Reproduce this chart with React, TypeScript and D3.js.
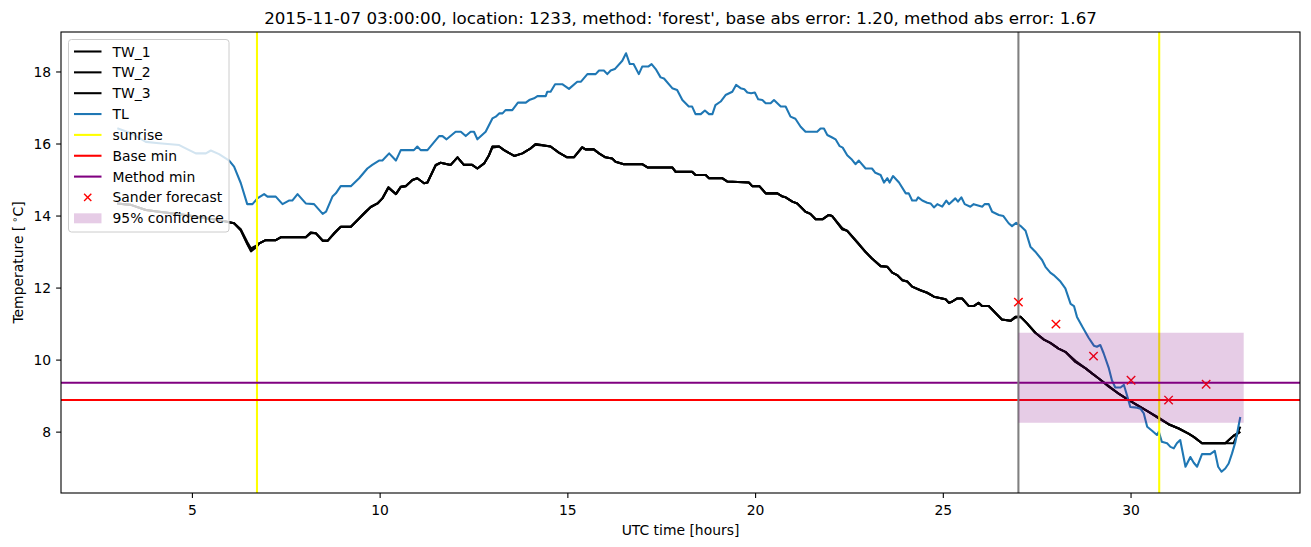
import React, { useEffect } from "react";
import * as d3 from "d3";

const TITLE = "2015-11-07 03:00:00, location: 1233, method: 'forest', base abs error: 1.20, method abs error: 1.67";

const TL_TIME = [3.0,3.36,3.76,4.11,4.65,4.82,5.09,5.36,5.49,5.71,5.98,6.11,6.29,6.46,6.6,6.73,6.91,7.0,7.22,7.4,7.57,7.66,7.8,8.02,8.24,8.47,8.56,8.73,8.82,8.95,9.22,9.44,9.66,9.79,9.97,10.06,10.24,10.42,10.55,10.9,10.99,11.08,11.26,11.57,11.66,11.77,12.01,12.15,12.28,12.41,12.5,12.59,12.81,12.99,13.08,13.17,13.26,13.34,13.52,13.67,13.88,13.97,14.1,14.19,14.41,14.45,14.54,14.66,14.85,15.03,15.25,15.35,15.52,15.74,15.83,15.96,16.05,16.14,16.25,16.45,16.55,16.65,16.75,16.89,16.98,17.14,17.23,17.34,17.47,17.56,17.78,17.91,18.05,18.22,18.31,18.4,18.54,18.65,18.76,18.85,18.93,19.07,19.2,19.38,19.48,19.6,19.7,19.78,19.88,19.98,20.07,20.18,20.27,20.4,20.49,20.67,20.8,20.93,21.06,21.2,21.33,21.64,21.73,21.82,21.91,22.04,22.13,22.24,22.32,22.44,22.57,22.66,22.75,22.93,23.1,23.19,23.33,23.42,23.51,23.57,23.66,23.82,24.0,24.08,24.17,24.28,24.33,24.44,24.57,24.66,24.75,24.84,24.97,25.08,25.15,25.32,25.39,25.48,25.57,25.72,25.81,26.04,26.1,26.21,26.3,26.48,26.6,26.74,26.83,26.94,27.06,27.19,27.32,27.45,27.63,27.72,27.85,27.94,28.12,28.25,28.39,28.48,28.56,28.7,28.87,29.01,29.09,29.18,29.27,29.41,29.49,29.58,29.72,29.81,29.89,29.98,30.16,30.25,30.34,30.43,30.56,30.69,30.74,30.82,30.96,31.05,31.14,31.22,31.31,31.45,31.58,31.67,31.76,31.89,32.11,32.23,32.32,32.41,32.51,32.6,32.69,32.78,32.85,32.91];
const TL = [16.44,16.3,16.06,16.02,15.97,15.88,15.74,15.74,15.82,15.72,15.54,15.37,14.91,14.33,14.33,14.49,14.61,14.54,14.54,14.33,14.43,14.43,14.61,14.35,14.33,14.06,14.12,14.54,14.63,14.83,14.83,15.05,15.32,15.42,15.54,15.54,15.74,15.54,15.83,15.83,15.93,15.83,15.83,16.22,16.22,16.13,16.34,16.34,16.22,16.34,16.34,16.13,16.34,16.71,16.76,16.85,16.85,16.94,16.94,17.15,17.15,17.22,17.27,17.33,17.33,17.45,17.45,17.66,17.66,17.53,17.73,17.73,17.94,17.94,18.04,18.04,17.94,18.04,18.08,18.31,18.52,18.22,18.22,17.94,18.15,18.15,18.22,18.08,17.85,17.82,17.55,17.5,17.22,17.04,17.04,16.83,16.83,16.93,16.83,16.83,17.08,17.18,17.36,17.45,17.64,17.55,17.52,17.43,17.41,17.43,17.24,17.22,17.13,17.13,17.22,17.04,17.04,16.76,16.7,16.48,16.34,16.34,16.43,16.43,16.25,16.18,16.13,15.94,15.9,15.69,15.56,15.44,15.54,15.32,15.32,15.2,15.14,14.93,15.05,14.93,15.11,14.93,14.63,14.63,14.43,14.43,14.52,14.43,14.37,14.35,14.24,14.33,14.26,14.43,14.33,14.49,14.4,14.52,14.33,14.26,14.33,14.26,14.33,14.33,14.12,14.03,14.0,13.8,13.72,13.81,13.72,13.59,13.15,13.01,12.78,12.59,12.43,12.36,12.18,11.99,11.56,11.5,11.2,10.93,10.62,10.4,10.37,10.42,10.19,9.77,9.44,9.24,9.24,9.31,9.03,8.7,8.68,8.65,8.52,8.15,8.04,7.92,8.01,7.73,7.69,7.59,7.55,7.69,7.78,7.04,7.31,7.15,7.04,7.39,7.39,7.48,7.04,6.9,6.99,7.13,7.41,7.73,8.1,8.42];

const TW_TIME = [3.0,3.36,3.76,4.11,4.82,5.36,5.71,5.98,6.11,6.29,6.46,6.56,6.7,6.78,6.95,7.22,7.35,8.02,8.15,8.29,8.47,8.6,8.77,8.95,9.22,9.4,9.61,9.75,9.93,10.06,10.22,10.42,10.55,10.68,10.86,10.99,11.17,11.26,11.48,11.61,11.88,12.06,12.23,12.45,12.59,12.77,12.9,12.99,13.17,13.3,13.57,13.79,14.01,14.14,14.54,14.76,14.98,15.16,15.38,15.47,15.69,15.83,16.0,16.18,16.27,16.49,16.98,17.12,17.78,17.87,18.31,18.4,18.67,18.76,19.11,19.24,19.82,19.91,20.1,20.27,20.58,20.72,20.8,20.98,21.11,21.33,21.46,21.6,21.78,21.95,22.04,22.31,22.44,22.71,22.93,23.1,23.33,23.51,23.64,23.77,23.91,24.04,24.17,24.39,24.57,24.75,25.06,25.15,25.23,25.36,25.5,25.68,25.81,25.94,26.03,26.21,26.39,26.56,26.79,26.92,27.06,27.23,27.45,27.68,27.85,28.07,28.25,28.52,28.79,28.96,29.14,29.41,29.68,29.94,30.21,30.47,30.74,31.0,31.27,31.53,31.67,31.89,32.51,32.73,32.91];
const TW_1 = [14.35,14.31,14.17,14.12,14.03,13.94,13.89,13.83,13.8,13.61,13.24,13.05,13.15,13.24,13.33,13.33,13.41,13.41,13.54,13.52,13.31,13.31,13.52,13.7,13.7,13.89,14.12,14.25,14.35,14.49,14.8,14.61,14.81,14.83,15.0,15.05,14.91,14.93,15.42,15.48,15.42,15.63,15.42,15.42,15.32,15.46,15.69,15.93,15.93,15.83,15.67,15.74,15.88,16.0,15.93,15.76,15.63,15.63,15.91,15.85,15.85,15.74,15.63,15.6,15.51,15.44,15.44,15.35,15.35,15.23,15.23,15.14,15.14,15.05,15.05,14.96,14.93,14.83,14.83,14.63,14.63,14.54,14.52,14.4,14.35,14.12,14.06,13.91,13.91,14.03,14.0,13.63,13.59,13.26,13.0,12.82,12.61,12.59,12.43,12.36,12.22,12.18,12.04,11.94,11.87,11.76,11.69,11.59,11.62,11.71,11.71,11.5,11.5,11.59,11.5,11.5,11.31,11.13,11.09,11.2,11.2,11.02,10.76,10.57,10.48,10.32,10.23,9.95,9.77,9.63,9.49,9.26,9.06,8.89,8.72,8.56,8.38,8.22,8.1,7.96,7.87,7.69,7.69,7.9,8.01];
const TW_2 = [14.35,14.31,14.17,14.12,14.03,13.94,13.89,13.83,13.8,13.63,13.28,13.1,13.18,13.24,13.33,13.33,13.41,13.41,13.52,13.52,13.33,13.31,13.5,13.7,13.7,13.89,14.1,14.25,14.35,14.49,14.78,14.61,14.81,14.83,15.0,15.05,14.91,14.93,15.4,15.48,15.42,15.63,15.42,15.42,15.32,15.46,15.69,15.9,15.93,15.83,15.67,15.74,15.88,15.98,15.93,15.76,15.63,15.63,15.9,15.85,15.85,15.74,15.63,15.6,15.51,15.44,15.44,15.35,15.35,15.23,15.23,15.14,15.14,15.05,15.05,14.96,14.93,14.83,14.83,14.63,14.63,14.54,14.52,14.4,14.35,14.12,14.06,13.91,13.91,14.03,14.0,13.66,13.59,13.28,13.0,12.82,12.61,12.59,12.43,12.36,12.22,12.18,12.04,11.94,11.87,11.76,11.69,11.59,11.62,11.71,11.71,11.5,11.5,11.59,11.5,11.5,11.31,11.13,11.09,11.18,11.2,11.02,10.76,10.57,10.48,10.32,10.23,9.98,9.77,9.63,9.49,9.28,9.06,8.89,8.72,8.56,8.4,8.22,8.1,7.96,7.87,7.69,7.69,7.69,8.15];
const TW_3 = [14.35,14.31,14.17,14.12,14.03,13.94,13.89,13.83,13.8,13.6,13.22,13.02,13.13,13.24,13.33,13.33,13.41,13.41,13.54,13.52,13.31,13.31,13.52,13.7,13.7,13.89,14.12,14.25,14.35,14.49,14.8,14.61,14.81,14.83,15.0,15.05,14.91,14.93,15.42,15.48,15.42,15.63,15.42,15.42,15.32,15.46,15.69,15.93,15.93,15.83,15.67,15.74,15.88,16.0,15.93,15.76,15.63,15.63,15.91,15.85,15.85,15.74,15.63,15.6,15.51,15.44,15.44,15.35,15.35,15.23,15.23,15.14,15.14,15.05,15.05,14.96,14.93,14.83,14.83,14.63,14.63,14.54,14.52,14.4,14.35,14.12,14.06,13.91,13.91,14.03,14.0,13.63,13.59,13.26,13.0,12.82,12.61,12.59,12.43,12.36,12.22,12.18,12.04,11.94,11.87,11.76,11.69,11.59,11.62,11.71,11.71,11.5,11.5,11.59,11.5,11.5,11.31,11.13,11.09,11.2,11.2,11.02,10.76,10.57,10.48,10.32,10.23,9.95,9.77,9.63,9.49,9.26,9.06,8.89,8.72,8.56,8.38,8.22,8.1,7.96,7.87,7.69,7.69,7.9,8.01];

const SUNRISE = [6.72, 30.75];
const FORECAST_START = 27.0;
const BASE_MIN = 8.89;
const METHOD_MIN = 9.37;
const FC_TIME = [27, 28, 29, 30, 31, 32];
const FC_VALUE = [11.61, 11.0, 10.11, 9.44, 8.89, 9.33];
const CONF_TIME = [27, 33];
const CONF_LOW = 8.26;
const CONF_HIGH = 10.76;

const X_TICKS = [5, 10, 15, 20, 25, 30];
const Y_TICKS = [8, 10, 12, 14, 16, 18];
const X_DOMAIN = [1.5, 34.5];
const Y_DOMAIN = [6.31, 19.11];

const W = 1311, H = 547;
const M = { left: 61, right: 1300, top: 32, bottom: 493 };
const FONT = "DejaVu Sans, sans-serif";
const FS = 13.9;
const LW = 2.08;

export default function App() {
  useEffect(() => { document.body.style.margin = "0"; }, []);
  const x = d3.scaleLinear().domain(X_DOMAIN).range([M.left, M.right]);
  const y = d3.scaleLinear().domain(Y_DOMAIN).range([M.bottom, M.top]);
  const line = d3.line<[number, number]>().x(d => x(d[0])).y(d => y(d[1]));
  const pts = (t: number[], v: number[]) => t.map((tt, i) => [tt, v[i]] as [number, number]);

  const legendItems = [
    { label: "TW_1", kind: "line", color: "#000000" },
    { label: "TW_2", kind: "line", color: "#000000" },
    { label: "TW_3", kind: "line", color: "#000000" },
    { label: "TL", kind: "line", color: "#1f77b4" },
    { label: "sunrise", kind: "line", color: "#ffff00" },
    { label: "Base min", kind: "line", color: "#ff0000" },
    { label: "Method min", kind: "line", color: "#800080" },
    { label: "Sander forecast", kind: "marker", color: "#ff0000" },
    { label: "95% confidence", kind: "patch", color: "#800080" },
  ];

  const xMark = (cx: number, cy: number, key: string | number, s = 4.2) => (
    <g key={key} stroke="#ff0000" strokeWidth={1.4}>
      <line x1={cx - s} y1={cy - s} x2={cx + s} y2={cy + s} />
      <line x1={cx - s} y1={cy + s} x2={cx + s} y2={cy - s} />
    </g>
  );

  return (
    <svg width={W} height={H} style={{ position: "absolute", left: 0, top: 0, background: "#fff" }} fontFamily={FONT}>
      <rect x={0} y={0} width={W} height={H} fill="#fff" />
      <defs>
        <clipPath id="plot">
          <rect x={M.left} y={M.top} width={M.right - M.left} height={M.bottom - M.top} />
        </clipPath>
      </defs>
      <g clipPath="url(#plot)">
        {[TW_1, TW_2, TW_3].map((s, i) => (
          <path key={i} d={line(pts(TW_TIME, s)) || ""} fill="none" stroke="#000" strokeWidth={LW} strokeLinejoin="round" />
        ))}
        <path d={line(pts(TL_TIME, TL)) || ""} fill="none" stroke="#1f77b4" strokeWidth={LW} strokeLinejoin="round" />
        {SUNRISE.map((s, i) => (
          <line key={i} x1={x(s)} x2={x(s)} y1={M.top} y2={M.bottom} stroke="#ffff00" strokeWidth={LW} />
        ))}
        <line x1={M.left} x2={M.right} y1={y(BASE_MIN)} y2={y(BASE_MIN)} stroke="#ff0000" strokeWidth={LW} />
        <line x1={M.left} x2={M.right} y1={y(METHOD_MIN)} y2={y(METHOD_MIN)} stroke="#800080" strokeWidth={LW} />
        <line x1={x(FORECAST_START)} x2={x(FORECAST_START)} y1={M.top} y2={M.bottom} stroke="#808080" strokeWidth={LW} />
        {FC_TIME.map((t, i) => xMark(x(t), y(FC_VALUE[i]), i))}
        <rect x={x(CONF_TIME[0])} width={x(CONF_TIME[1]) - x(CONF_TIME[0])} y={y(CONF_HIGH)} height={y(CONF_LOW) - y(CONF_HIGH)} fill="#800080" fillOpacity={0.2} />
      </g>
      <rect x={M.left} y={M.top} width={M.right - M.left} height={M.bottom - M.top} fill="none" stroke="#000" strokeWidth={1.1} />
      {X_TICKS.map(t => (
        <g key={t}>
          <line x1={x(t)} x2={x(t)} y1={M.bottom} y2={M.bottom + 4.9} stroke="#000" strokeWidth={1.1} />
          <text x={x(t)} y={M.bottom + 22} textAnchor="middle" fontSize={FS}>{t}</text>
        </g>
      ))}
      {Y_TICKS.map(t => (
        <g key={t}>
          <line x1={M.left - 4.9} x2={M.left} y1={y(t)} y2={y(t)} stroke="#000" strokeWidth={1.1} />
          <text x={M.left - 9.8} y={y(t) + 5} textAnchor="end" fontSize={FS}>{t}</text>
        </g>
      ))}
      <text x={(M.left + M.right) / 2} y={535} textAnchor="middle" fontSize={FS}>UTC time [hours]</text>
      <text transform={`translate(23, ${(M.top + M.bottom) / 2}) rotate(-90)`} textAnchor="middle" fontSize={FS}>
        Temperature [<tspan fontSize={FS * 0.7} dy={-5}>{" \u2218"}</tspan><tspan dy={5}>C]</tspan>
      </text>
      <text x={(M.left + M.right) / 2} y={24} textAnchor="middle" fontSize={16.7}>{TITLE}</text>
      <g>
        <rect x={68.5} y={39.5} width={160.5} height={192.5} rx={3} fill="#fff" fillOpacity={0.8} stroke="#cccccc" strokeWidth={1} />
        {legendItems.map((it, i) => {
          const cy = 51.5 + i * 20.85;
          return (
            <g key={it.label}>
              {it.kind === "line" && <line x1={74} x2={101.5} y1={cy} y2={cy} stroke={it.color} strokeWidth={LW} />}
              {it.kind === "marker" && xMark(87.7, cy, "m" + i, 3.6)}
              {it.kind === "patch" && <rect x={74} y={cy - 5} width={27.5} height={10} fill={it.color} fillOpacity={0.2} />}
              <text x={112.5} y={cy + 5} fontSize={FS}>{it.label}</text>
            </g>
          );
        })}
      </g>
    </svg>
  );
}
